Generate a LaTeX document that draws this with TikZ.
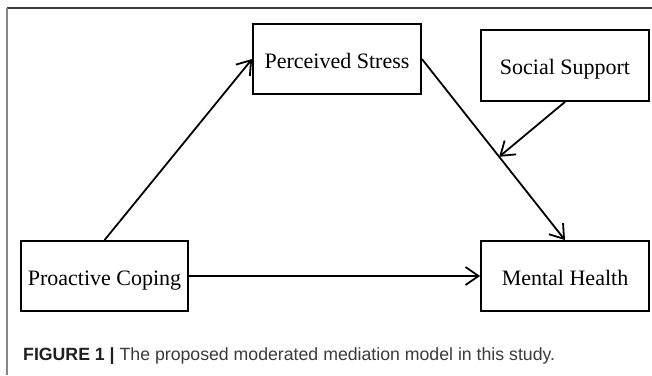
\documentclass[tikz,border=0pt]{standalone}
\usepackage{fontspec}
\setmainfont{Liberation Serif}
\newfontfamily\capfont{Liberation Sans}
\usetikzlibrary{arrows.meta}
\definecolor{captxt}{HTML}{3A3A3A}
\definecolor{framedark}{HTML}{3C3C3C}
\definecolor{framelight}{HTML}{858585}
\tikzset{
  varbox/.style={draw=black, line width=1.8pt, inner sep=0pt, minimum width=167pt, minimum height=70pt,
    text height=18pt, text depth=0pt, font=\fontsize{22}{24}\selectfont},
  conn/.style={line width=1.8pt, -{Straight Barb[length=13pt,width=18pt,line width=1.8pt]}},
}
\begin{document}
\begin{tikzpicture}[x=1pt,y=-1pt]
\useasboundingbox (0,0) rectangle (652,375);
% frame
\draw[framedark, line width=2pt] (7,8) -- (652,8);
\draw[framelight, line width=2.2pt] (7,8) -- (7,375);
% boxes
\node[varbox, minimum width=168pt, minimum height=70pt] (ps) at (337,59) {Perceived Stress};
\node[varbox, minimum width=168pt, minimum height=71pt] (ss) at (565,65.5) {Social Support};
\node[varbox, minimum width=167pt, minimum height=70pt] (pc) at (104.5,276) {Proactive Coping};
\node[varbox, minimum width=168pt, minimum height=70pt] (mh) at (565,276) {Mental Health};
% connectors
\draw[conn] (pc.north) -- (ps.west);
\draw[conn] (ps.east) -- (mh.north) coordinate[pos=0.54] (m);
\draw[conn] (ss.south) -- (m);
\draw[conn] (pc.east) -- (mh.west);
% caption
\node[anchor=base west, inner sep=0pt, text=captxt, font=\capfont\fontsize{17.7}{20}\selectfont] (cap) at (23,360)
  {{\color{black!88}\bfseries FIGURE 1 |} The proposed moderated mediation model in this study.};
\end{tikzpicture}
\end{document}
